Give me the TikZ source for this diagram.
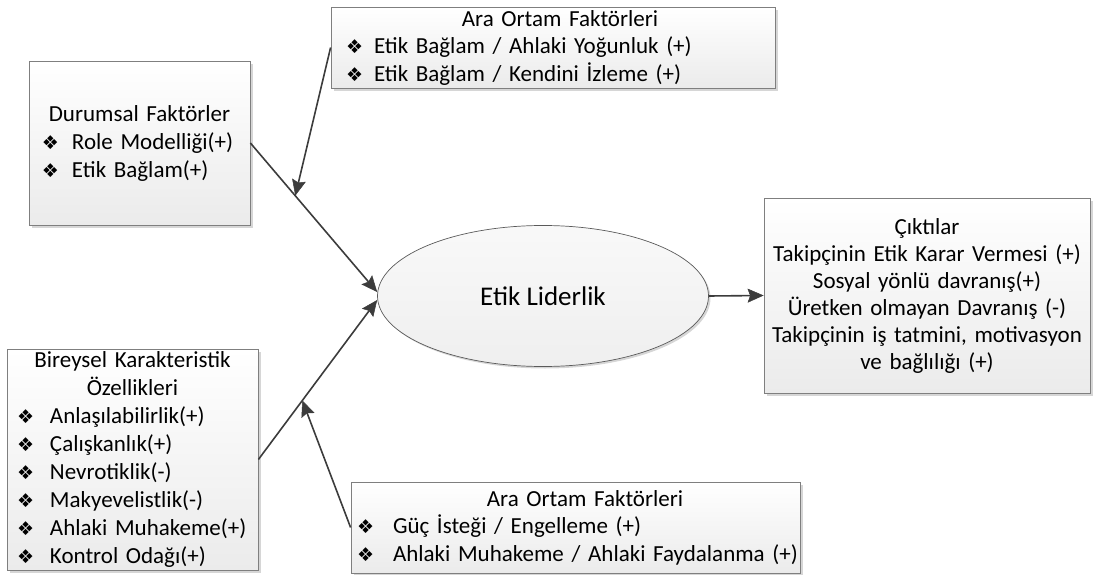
\documentclass[tikz,border=0pt]{standalone}
\usepackage{fontspec}
\setmainfont{Carlito}
\newfontfamily\dingfont{DejaVu Sans}
\usetikzlibrary{shapes.geometric,shadows,arrows.meta,calc}

\definecolor{edge}{HTML}{7F7F7F}
\definecolor{ringedge}{HTML}{5A5A5A}
\definecolor{wire}{HTML}{3C3C3C}
\definecolor{boxbot}{HTML}{EBEBEB}
\definecolor{ringbot}{HTML}{EFEFEF}
\definecolor{shade}{HTML}{D6D6D6}

% diamond bullet and one bulleted line: indent, bullet column, text
\newcommand\dmd{{\dingfont\fontsize{19}{19}\selectfont ❖}}
\newcommand\bline[3]{\hspace*{#1pt}\makebox[#2pt][l]{\dmd}#3}

\begin{document}
\begin{tikzpicture}[x=1pt,y=-1pt,
  factorbox/.style={draw=edge, line width=0.8pt, top color=white, bottom color=boxbot,
    drop shadow={shadow xshift=3pt, shadow yshift=-3pt, fill=shade, opacity=1},
    inner sep=0pt, align=left, font=\fontsize{23}{28}\selectfont},
  centerbox/.style={factorbox, align=center},
  ring/.style={ellipse, draw=ringedge, line width=0.7pt, top color=white!60!ringbot, bottom color=ringbot,
    drop shadow={shadow xshift=2pt, shadow yshift=-2pt, fill=shade, opacity=1},
    inner sep=0pt, minimum width=331pt, minimum height=141pt, font=\fontsize{27}{32}\selectfont},
  flow/.style={draw=wire, line width=1.6pt,
    -{Stealth[length=16pt, width=14pt, inset=2.5pt, line width=0.5pt]}}
]
\useasboundingbox (0,0) rectangle (1093,575);

% situational factors
\node[factorbox, minimum width=221pt, text width=221pt, minimum height=164pt] (dur) at (139.5,143)
  {\makebox[221pt]{Durumsal Faktörler}\\
   \bline{13}{30}{Role Modelliği(+)}\\
   \bline{13}{30}{Etik Bağlam(+)}};

% moderating factors, upper
\node[factorbox, minimum width=444pt, text width=444pt, minimum height=81pt,
      font=\fontsize{23}{27.5}\selectfont] (araA) at (553,47.5)
  {\makebox[444pt]{\hspace*{14pt}Ara Ortam Faktörleri}\\
   \bline{15}{28}{Etik Bağlam / Ahlaki Yoğunluk (+)}\\
   \bline{15}{28}{Etik Bağlam / Kendini İzleme (+)}};

% individual characteristics
\node[factorbox, minimum width=251pt, text width=251pt, minimum height=221pt] (bir) at (132.5,459.5)
  {\makebox[251pt]{Bireysel Karakteristik}\\
   \makebox[251pt]{Özellikleri}\\
   \bline{10}{33}{Anlaşılabilirlik(+)}\\
   \bline{10}{33}{Çalışkanlık(+)}\\
   \bline{10}{33}{Nevrotiklik(-)}\\
   \bline{10}{33}{Makyevelistlik(-)}\\
   \bline{10}{33}{Ahlaki Muhakeme(+)}\\
   \bline{10}{33}{Kontrol Odağı(+)}};

% moderating factors, lower
\node[factorbox, minimum width=449pt, text width=449pt, minimum height=91pt,
      font=\fontsize{23}{27.5}\selectfont] (araB) at (575.5,527.5)
  {\makebox[449pt]{\hspace*{19pt}Ara Ortam Faktörleri}\\
   \bline{6}{36}{Güç İsteği / Engelleme (+)}\\
   \bline{6}{36}{Ahlaki Muhakeme / Ahlaki Faydalanma (+)}};

% outcomes
\node[centerbox, minimum width=326pt, text width=326pt, minimum height=195pt,
      font=\fontsize{23}{27}\selectfont] (cik) at (927,295.5)
  {Çıktılar\\
   Takipçinin Etik Karar Vermesi (+)\\
   Sosyal yönlü davranış(+)\\
   Üretken olmayan Davranış (-)\\
   Takipçinin iş tatmini, motivasyon\\
   ve bağlılığı (+)};

% central concept
\node[ring] (ell) at (543,296) {Etik Liderlik};

% arrow end points on the ellipse
\coordinate (inA) at ($(ell.west)+(0,-4)$);
\coordinate (inB) at ($(ell.west)+(0,4)$);

% main influences, with the moderators meeting them part way
\draw[flow] (dur.east) -- coordinate[pos=0.354] (midA) (inA);
\draw[flow] (bir.east) -- coordinate[pos=0.37] (midB) (inB);
\draw[flow] (araA.west) -- (midA);
\draw[flow] (araB.west) -- (midB);
\draw[flow] (ell.east) -- (cik.west);
\end{tikzpicture}
\end{document}
